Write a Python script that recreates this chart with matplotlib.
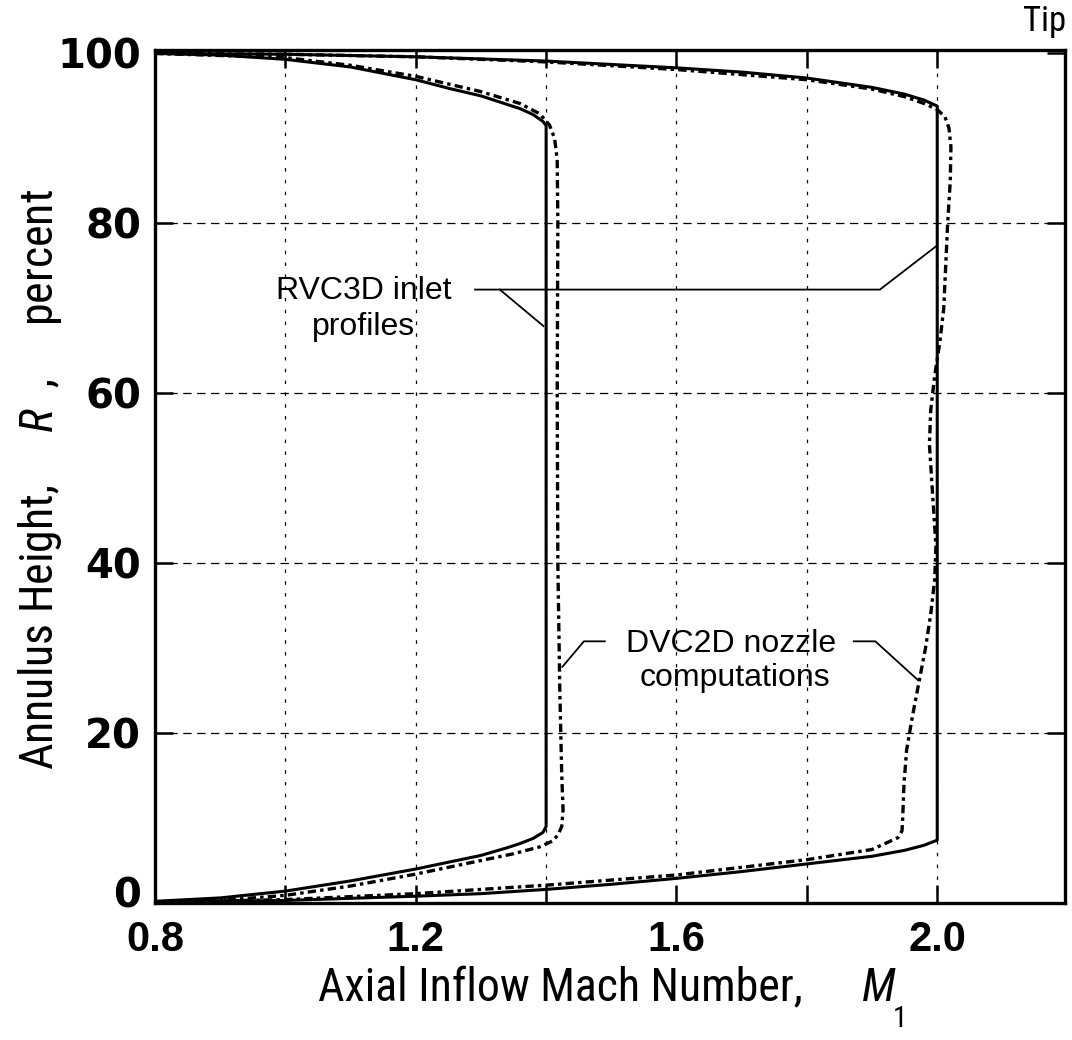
import matplotlib
matplotlib.use("Agg")
import matplotlib.pyplot as plt
from matplotlib import font_manager as fm
from matplotlib.transforms import ScaledTranslation

# ---------------- data ----------------
# RVC3D inlet profile, M1 = 1.4 (solid) : path tip -> hub
rvc_a_mach = [0.80, 0.90, 1.00, 1.10, 1.20, 1.25, 1.30, 1.34, 1.36, 1.38, 1.395, 1.40,
              1.40, 1.395, 1.38, 1.36, 1.34, 1.30, 1.20, 1.10, 1.00, 0.90, 0.80]
rvc_a_R = [100.0, 99.8, 99.3, 98.4, 96.9, 95.9, 95.0, 94.0, 93.5, 92.8, 92.0, 91.5,
           9.0, 8.3, 7.6, 7.0, 6.5, 5.6, 4.0, 2.6, 1.4, 0.6, 0.2]

# DVC2D nozzle computation, M1 = 1.4 (dashed)
dvc_a_mach = [0.80, 1.00, 1.10, 1.20, 1.30, 1.36, 1.39, 1.405, 1.413, 1.417, 1.418, 1.417,
              1.418, 1.421, 1.424, 1.426, 1.424, 1.418, 1.41, 1.39, 1.35, 1.30, 1.20,
              1.10, 1.00, 0.90, 0.80]
dvc_a_R = [100.0, 99.5, 98.6, 97.3, 95.5, 94.1, 92.9, 91.6, 90.0, 87.5, 80.0, 60.0,
           40.0, 25.0, 15.0, 11.0, 9.0, 8.0, 7.3, 6.6, 5.8, 5.0, 3.4,
           2.0, 0.9, 0.3, 0.1]

# RVC3D inlet profile, M1 = 2.0 (solid)
rvc_b_mach = [0.80, 1.00, 1.20, 1.40, 1.60, 1.70, 1.80, 1.90, 1.95, 1.98, 2.00,
              2.00, 1.98, 1.95, 1.90, 1.80, 1.70, 1.60, 1.50, 1.40, 1.30, 1.20, 1.00, 0.80]
rvc_b_R = [100.0, 99.9, 99.6, 99.1, 98.3, 97.8, 97.1, 96.0, 95.2, 94.5, 93.8,
           7.4, 6.8, 6.2, 5.5, 4.6, 3.7, 2.9, 2.2, 1.6, 1.1, 0.8, 0.3, 0.1]

# DVC2D nozzle computation, M1 = 2.0 (dashed)
dvc_b_mach = [0.80, 1.00, 1.20, 1.40, 1.60, 1.80, 1.90, 1.95, 1.98, 2.00, 2.012, 2.018,
              2.021, 2.020, 2.016, 2.013, 2.010, 2.004, 1.996, 1.990, 1.988, 1.993,
              1.998, 1.996, 1.990, 1.982, 1.972, 1.962, 1.953, 1.949, 1.947, 1.946,
              1.940, 1.920, 1.900, 1.800, 1.700, 1.600, 1.500, 1.400, 1.300, 1.200,
              1.000, 0.800]
dvc_b_R = [100.0, 99.9, 99.6, 99.0, 98.1, 96.9, 95.8, 94.9, 94.1, 93.4, 92.5, 91.2,
           89.0, 85.0, 80.0, 75.0, 70.0, 66.0, 62.0, 58.0, 54.0, 48.0,
           42.0, 38.0, 34.0, 30.0, 26.0, 22.0, 18.0, 14.0, 10.0, 8.5,
           7.7, 7.0, 6.3, 5.1, 4.2, 3.3, 2.7, 2.1, 1.6, 1.1,
           0.4, 0.1]

x_ticks = [0.8, 1.2, 1.6, 2.0]
x_tick_labels = ["0.8", "1.2", "1.6", "2.0"]
x_grid = [1.0, 1.2, 1.4, 1.6, 1.8, 2.0]
y_ticks = [0, 20, 40, 60, 80, 100]
y_tick_labels = ["0", "20", "40", "60", "80", "100"]

# leader lines (data coordinates)
rvc_leader_main_x = [1.291, 1.912, 2.000]
rvc_leader_main_y = [72.2, 72.2, 77.4]
rvc_leader_branch_x = [1.329, 1.396]
rvc_leader_branch_y = [72.2, 67.9]
dvc_leader_left_x = [1.490, 1.458, 1.425]
dvc_leader_left_y = [30.8, 30.8, 27.8]
dvc_leader_right_x = [1.872, 1.905, 1.971]
dvc_leader_right_y = [30.8, 30.8, 26.2]


def pick(cands):
    for c in cands:
        try:
            fm.findfont(fm.FontProperties(family=c), fallback_to_default=False)
            return c
        except Exception:
            pass
    return "DejaVu Sans"


narrow = pick(["Liberation Sans Narrow", "Roboto Condensed", "DejaVu Sans Condensed",
               "Liberation Sans"])
sans = pick(["Liberation Sans", "DejaVu Sans"])

plt.rcParams["font.family"] = [narrow, "DejaVu Sans"]
plt.rcParams["mathtext.fontset"] = "custom"
plt.rcParams["mathtext.it"] = narrow + ":italic"
plt.rcParams["mathtext.rm"] = narrow
plt.rcParams["lines.scale_dashes"] = False

W, H = 1072, 1040
fig = plt.figure(figsize=(W / 100, H / 100), dpi=100)
ax = fig.add_axes([155 / W, 1 - 903 / H, 910 / W, 853 / H])

ax.set_xlim(0.8, 2.196)
ax.set_ylim(0.25, 100.4)

# grid
for g in x_grid:
    ax.axvline(g, color="black", lw=0.9, dashes=(2.5, 6), zorder=1)
for g in y_ticks[1:-1]:
    ax.axhline(g, color="black", lw=0.9, dashes=(6, 4), zorder=1)

solid_kw = dict(color="black", lw=2.2, solid_joinstyle="round", zorder=3)
dash_kw = dict(color="black", lw=2.4, dashes=(6, 3, 2.5, 3), zorder=3)
ax.plot(rvc_a_mach, rvc_a_R, **solid_kw)
ax.plot(rvc_b_mach, rvc_b_R, **solid_kw)
ax.plot(dvc_a_mach, dvc_a_R, **dash_kw)
ax.plot(dvc_b_mach, dvc_b_R, **dash_kw)

lead_kw = dict(color="black", lw=1.3, zorder=4)
ax.plot(rvc_leader_main_x, rvc_leader_main_y, **lead_kw)
ax.plot(rvc_leader_branch_x, rvc_leader_branch_y, **lead_kw)
ax.plot(dvc_leader_left_x, dvc_leader_left_y, **lead_kw)
ax.plot(dvc_leader_right_x, dvc_leader_right_y, **lead_kw)

ann_kw = dict(fontsize=23, family=[sans, "DejaVu Sans"], ha="center", va="baseline", zorder=5)
ax.text(1.12, 71.1, "RVC3D inlet", **ann_kw)
ax.text(1.12, 66.9, "profiles", **ann_kw)
ax.text(1.683, 29.6, "DVC2D nozzle", **ann_kw)
ax.text(1.69, 25.5, "computations", **ann_kw)

# ticks
ax.set_xticks(x_ticks)
ax.set_xticklabels(x_tick_labels, fontsize=30, fontweight="bold", family=[sans, "DejaVu Sans"])
ax.set_xticks(x_grid, minor=True)
ax.set_yticks(y_ticks)
ax.set_yticklabels(y_tick_labels, fontsize=29, fontweight="bold", family=["DejaVu Sans"])
ax.tick_params(which="both", direction="in", top=True, right=True, length=13, width=1.8)
ax.tick_params(axis="x", which="major", pad=12)
ax.tick_params(axis="y", which="major", pad=10)
for s in ax.spines.values():
    s.set_linewidth(2.4)
# the "0" label sits a little above its tick in the reference
zero_lbl = ax.yaxis.get_major_ticks()[0].label1
zero_lbl.set_transform(zero_lbl.get_transform() + ScaledTranslation(0, 0.11, fig.dpi_scale_trans))

# axis labels
fig.text(40 / W, 1 - 480 / H, "Annulus Height,     $\\mathit{R}$  ,     percent", rotation=90,
         fontsize=33, ha="center", va="center")
fig.text(318 / W, 1 - 1001 / H, "Axial Inflow Mach Number,", fontsize=33,
         ha="left", va="baseline")
fig.text(862 / W, 1 - 1001 / H, "M", fontsize=33, style="italic", ha="left", va="baseline")
fig.text(893 / W, 1 - 1027 / H, "1", fontsize=21, ha="left", va="baseline")

fig.text(1066 / W, 1 - 31 / H, "Tip", fontsize=25, ha="right", va="baseline")

fig.savefig("out.png", dpi=100)
